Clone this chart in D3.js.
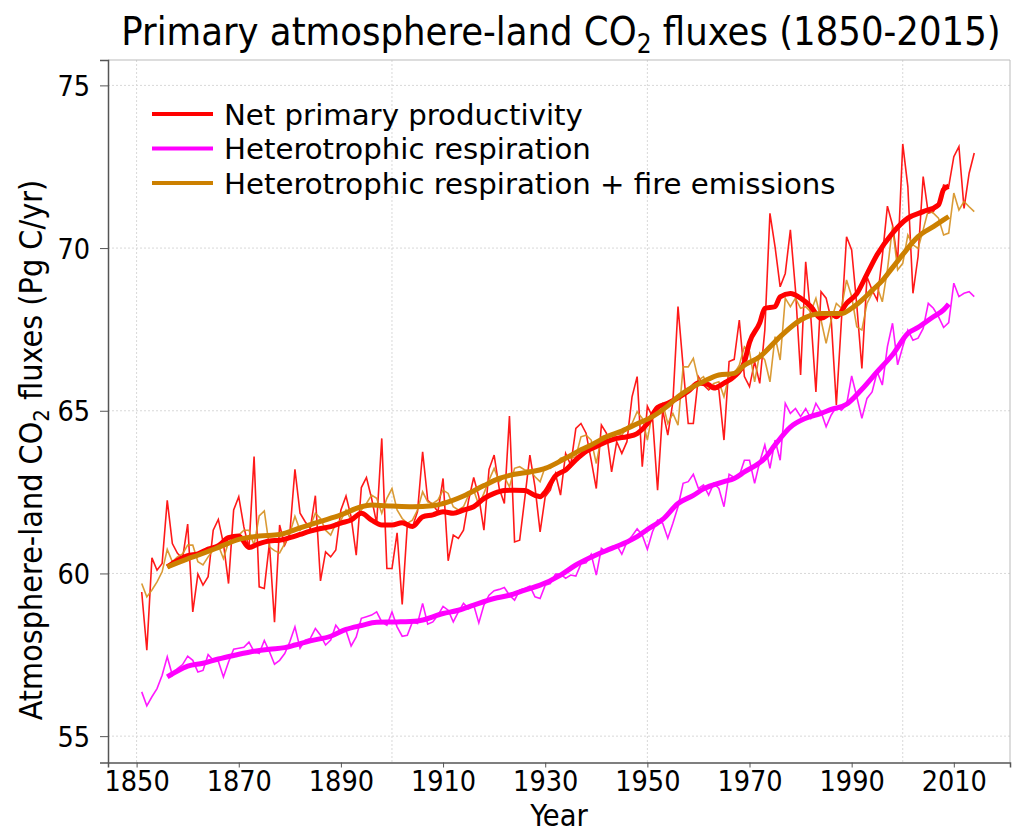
<!DOCTYPE html>
<html><head><meta charset="utf-8">
<script src="https://cdn.jsdelivr.net/npm/d3@7"></script>
<style>
body{margin:0;background:#fff}
text{font-family:"DejaVu Sans Condensed","DejaVu Sans",sans-serif;font-stretch:condensed;fill:#000}
</style>
</head><body><svg id="c" width="1013" height="833"></svg>
<script>
// ---------- DATA ----------
const firstYear = 1851;
// Net primary productivity (annual, 1851-2014)
const npp = [59.43,57.64,60.48,60.10,60.31,62.25,60.92,60.62,60.46,61.52,
58.82,59.98,59.64,59.90,61.33,61.66,60.92,59.69,61.95,62.36,
61.43,60.77,63.59,59.59,59.54,60.92,58.50,61.49,60.87,61.23,
63.20,61.85,61.59,61.38,62.39,59.77,60.66,60.51,60.72,61.95,
62.38,61.74,60.56,62.64,62.95,62.31,61.54,64.15,60.15,60.15,
61.25,59.05,61.49,61.43,61.90,63.74,62.25,62.10,61.90,62.92,
60.39,61.18,61.08,61.33,62.25,62.95,62.36,61.33,63.20,63.64,
62.61,62.15,64.84,60.97,61.02,62.31,63.64,62.66,61.28,62.36,
62.56,63.07,62.41,63.69,63.33,64.46,64.61,64.31,63.48,62.61,
64.56,64.31,63.12,64.05,63.69,64.05,65.43,66.05,63.28,65.14,
64.82,62.56,65.02,64.25,65.28,68.20,66.35,64.61,64.61,66.05,
65.79,65.64,65.79,65.64,64.10,66.51,66.58,67.79,66.05,65.74,
66.51,65.84,67.48,71.07,70.04,68.81,69.22,70.56,68.71,66.10,
69.58,67.89,65.58,68.66,68.46,67.79,65.18,67.79,70.35,69.94,
68.25,66.30,69.12,68.71,68.40,69.74,71.29,70.71,69.58,73.20,
71.89,68.61,69.74,72.20,71.07,71.12,71.38,71.94,71.89,72.81,
73.12,71.22,72.30,72.92];
// Heterotrophic respiration (annual, 1851-2014)
const hr = [56.36,55.93,56.21,56.46,56.87,57.44,56.87,57.08,57.20,57.46,
57.33,56.97,57.02,57.51,57.33,57.30,56.82,57.28,57.67,57.70,
57.73,57.89,57.60,57.54,57.94,57.60,57.21,57.33,57.54,57.90,
58.36,57.70,57.95,58.00,58.31,58.10,57.80,57.95,58.41,58.20,
58.25,57.77,58.05,58.62,58.67,58.72,58.82,58.51,58.41,58.82,
58.36,58.07,58.10,58.51,58.46,59.08,58.44,58.51,58.72,58.99,
58.87,58.51,58.82,59.08,58.92,59.03,58.48,59.03,59.33,59.47,
59.51,59.57,59.33,59.18,59.49,59.54,59.61,59.28,59.23,59.64,
59.69,59.98,59.98,59.85,59.95,59.92,60.29,60.33,60.59,59.95,
60.77,60.66,60.82,60.87,60.59,60.97,61.15,61.37,61.18,60.74,
61.28,61.64,61.54,61.08,61.54,62.05,62.77,62.82,63.05,62.61,
62.72,62.41,62.77,62.61,62.05,63.05,62.95,63.00,63.48,63.48,
62.77,63.43,63.95,63.23,64.10,63.48,65.23,64.92,65.07,64.82,
65.07,64.77,65.23,64.97,64.51,64.87,65.12,65.02,65.18,66.07,
65.43,64.77,65.38,65.58,66.20,65.79,66.97,67.69,66.41,66.97,
67.48,67.17,67.23,67.53,68.30,68.15,67.89,67.56,67.71,68.92,
68.51,68.61,68.66,68.51];
// Heterotrophic respiration + fire emissions (annual, 1851-2014)
const hrFire = [59.69,59.28,59.49,59.74,60.05,60.74,60.36,60.51,60.60,60.87,
60.87,60.36,60.26,60.51,60.72,60.87,60.46,60.97,61.02,61.18,
61.33,61.33,60.87,61.77,61.92,60.82,60.70,60.63,60.92,61.23,
61.76,61.33,61.49,61.45,61.85,61.69,61.33,61.18,61.54,61.64,
61.95,61.64,61.74,61.95,62.15,62.41,62.31,61.85,62.31,62.61,
61.95,61.69,61.54,61.64,61.95,62.51,62.20,62.15,62.26,62.56,
62.46,62.05,61.95,62.05,62.41,62.56,62.10,62.46,62.87,63.23,
62.82,62.97,62.66,63.23,63.28,63.18,63.18,62.97,62.82,63.28,
63.23,63.38,63.54,63.59,63.54,63.59,64.20,64.25,64.10,63.38,
64.20,64.25,64.10,64.31,64.25,64.51,64.61,64.97,64.77,64.10,
64.97,65.12,65.23,64.61,64.92,64.56,66.35,66.35,66.61,65.94,
66.05,65.69,65.84,65.89,65.43,66.10,66.15,66.40,66.97,66.82,
65.89,66.77,66.56,65.89,67.28,66.56,68.46,68.20,68.46,68.15,
68.20,68.04,68.46,67.79,67.07,67.79,68.30,68.15,69.02,68.51,
67.58,67.48,68.30,68.61,68.81,68.35,69.33,70.66,69.33,69.53,
70.40,70.10,69.99,70.56,71.17,71.07,70.92,70.40,70.46,71.69,
71.17,71.43,71.27,71.12];
// Smoothed curves [year, value]
const nppSmooth = [[1856,60.2],[1858,60.4],[1860,60.55],[1862,60.6],[1864,60.75],[1866,60.85],[1868,61.1],[1870,61.15],[1872,60.8],[1874,60.92],
[1876,61.0],[1878,61.02],[1880,61.1],[1882,61.2],[1884,61.3],[1886,61.38],[1888,61.44],[1890,61.55],[1892,61.64],[1894,61.85],
[1896,61.64],[1898,61.49],[1900,61.49],[1902,61.56],[1904,61.44],[1906,61.74],[1908,61.8],[1910,61.9],[1912,61.85],[1914,61.95],
[1916,62.05],[1918,62.3],[1920,62.46],[1922,62.55],[1924,62.56],[1926,62.55],[1928,62.4],[1929,62.36],[1930,62.5],[1932,63.0],
[1934,63.18],[1936,63.49],[1938,63.75],[1940,63.9],[1942,64.05],[1944,64.15],[1946,64.2],[1948,64.3],[1950,64.6],[1952,65.1],
[1954,65.23],[1956,65.4],[1958,65.6],[1960,65.85],[1962,65.8],[1963,65.7],[1965,65.85],[1967,66.05],[1969,66.5],[1970,67.1],
[1972,67.7],[1973,68.15],[1975,68.2],[1976,68.5],[1978,68.6],[1980,68.46],[1982,68.2],[1984,67.84],[1986,67.99],[1987,67.89],
[1989,68.3],[1991,68.6],[1993,69.2],[1995,69.8],[1998,70.46],[2001,70.92],[2004,71.12],[2007,71.33],[2008,71.8],[2009,71.9]];
const hrSmooth = [[1856,56.82],[1858,57.0],[1860,57.15],[1863,57.24],[1866,57.37],[1869,57.48],[1872,57.58],[1876,57.67],[1879,57.72],[1881,57.8],
[1884,57.93],[1888,58.07],[1891,58.28],[1894,58.4],[1897,58.5],[1901,58.51],[1905,58.54],[1910,58.77],[1913,58.87],[1916,59.03],
[1920,59.23],[1923,59.33],[1926,59.49],[1929,59.64],[1933,59.95],[1936,60.26],[1939,60.5],[1943,60.77],[1946,60.97],[1948,61.13],
[1950,61.35],[1953,61.66],[1956,62.15],[1959,62.4],[1961,62.6],[1965,62.82],[1967,62.92],[1969,63.12],[1973,63.54],[1975,63.95],
[1978,64.5],[1981,64.77],[1984,64.92],[1986,65.04],[1989,65.2],[1992,65.66],[1995,66.2],[1998,66.72],[2001,67.38],[2003,67.56],
[2006,67.89],[2008,68.1],[2009,68.28]];
const hrFireSmooth = [[1856,60.2],[1860,60.45],[1862,60.56],[1866,60.8],[1870,61.05],[1874,61.15],[1878,61.2],[1882,61.4],[1886,61.6],[1890,61.8],
[1894,62.05],[1896,62.1],[1900,62.07],[1904,62.05],[1908,62.08],[1910,62.15],[1914,62.38],[1918,62.7],[1921,62.92],[1924,63.05],
[1927,63.12],[1930,63.23],[1934,63.54],[1937,63.8],[1939,63.95],[1942,64.2],[1945,64.38],[1948,64.6],[1951,64.82],[1954,65.15],
[1956,65.43],[1958,65.65],[1961,65.9],[1964,66.1],[1967,66.15],[1969,66.4],[1972,66.66],[1976,67.28],[1980,67.79],[1984,67.99],
[1988,67.99],[1990,68.15],[1992,68.4],[1994,68.7],[1996,69.0],[1998,69.4],[2000,69.8],[2003,70.35],[2006,70.66],[2009,70.97]];
const xTicks = [1850,1870,1890,1910,1930,1950,1970,1990,2010];
const xGrid = [1850,1900,1950,2000];
const yTicks = [55,60,65,70,75];
const seriesNames = ["Net primary productivity","Heterotrophic respiration","Heterotrophic respiration + fire emissions"];
const colors = {npp:"#ff0000", hr:"#ff00ff", fire:"#cc8000", fireThin:"#d69020"};

// ---------- CHART ----------
const svg = d3.select("#c");
const L = 108, R = 1010, T = 60, B = 762.5;
const x = d3.scaleLinear().domain([1844.4, 2021.0]).range([L, R]);
const y = d3.scaleLinear().domain([54.19, 75.78]).range([B, T]);

// grid
const g = svg.append("g");
g.selectAll(".gx").data(xGrid).join("line")
  .attr("x1", d => x(d)).attr("x2", d => x(d)).attr("y1", T).attr("y2", B)
  .attr("stroke", "#d8d8d8").attr("stroke-width", 1).attr("stroke-dasharray", "2,2");
g.selectAll(".gy").data(yTicks).join("line")
  .attr("x1", L).attr("x2", R).attr("y1", d => y(d)).attr("y2", d => y(d))
  .attr("stroke", "#d8d8d8").attr("stroke-width", 1).attr("stroke-dasharray", "2,2");

// frame
svg.append("line").attr("x1", L).attr("x2", R).attr("y1", T).attr("y2", T).attr("stroke", "#bbb");
svg.append("line").attr("x1", R).attr("x2", R).attr("y1", T).attr("y2", B).attr("stroke", "#bbb");

const annual = arr => arr.map((v, i) => [firstYear + i, v]);
const lineLin = d3.line().x(d => x(d[0])).y(d => y(d[1]));
const lineSm = d3.line().x(d => x(d[0])).y(d => y(d[1])).curve(d3.curveMonotoneX);

const plot = svg.append("g");
plot.append("path").datum(annual(npp)).attr("d", lineLin).attr("fill", "none")
  .attr("stroke", colors.npp).attr("stroke-width", 1.6).attr("stroke-opacity", 0.9);
plot.append("path").datum(annual(hr)).attr("d", lineLin).attr("fill", "none")
  .attr("stroke", colors.hr).attr("stroke-width", 1.6).attr("stroke-opacity", 0.9);
plot.append("path").datum(annual(hrFire)).attr("d", lineLin).attr("fill", "none")
  .attr("stroke", colors.fireThin).attr("stroke-width", 1.6).attr("stroke-opacity", 0.9);
plot.append("path").datum(hrSmooth).attr("d", lineSm).attr("fill", "none")
  .attr("stroke", colors.hr).attr("stroke-width", 5).attr("stroke-linejoin", "round");
plot.append("path").datum(nppSmooth).attr("d", lineSm).attr("fill", "none")
  .attr("stroke", colors.npp).attr("stroke-width", 5).attr("stroke-linejoin", "round");
plot.append("path").datum(hrFireSmooth).attr("d", lineSm).attr("fill", "none")
  .attr("stroke", colors.fire).attr("stroke-width", 5).attr("stroke-linejoin", "round");

// axes
const xAxis = svg.append("g").attr("transform", `translate(0,${B})`)
  .call(d3.axisBottom(x).tickValues(xTicks).tickFormat(d3.format("d")).tickSizeOuter(0).tickSize(5).tickPadding(3));
const yAxis = svg.append("g").attr("transform", `translate(${L},0)`)
  .call(d3.axisLeft(y).tickValues(yTicks).tickSizeOuter(0).tickSize(8).tickPadding(10));
[xAxis, yAxis].forEach(a => {
  a.select(".domain").attr("stroke", "#555").attr("stroke-width", 1.5);
  a.selectAll(".tick line").attr("stroke", "#555");
  a.selectAll("text").attr("font-size", 28.5).attr("fill", "#000")
    .style("font-family", '"DejaVu Sans Condensed","DejaVu Sans",sans-serif');
});
yAxis.selectAll("text").attr("dy", "0.35em");

// title
const title = svg.append("text").attr("x", 561).attr("y", 45).attr("text-anchor", "middle")
  .attr("font-size", 39.5);
title.append("tspan").text("Primary atmosphere-land CO");
title.append("tspan").text("2").attr("font-size", 26).attr("dy", 8);
title.append("tspan").text(" fluxes (1850-2015)").attr("dy", -8);

// axis titles
svg.append("text").attr("x", 559).attr("y", 826).attr("text-anchor", "middle").attr("font-size", 30.5).text("Year");
const yl = svg.append("text").attr("transform", "translate(42,450) rotate(-90)").attr("text-anchor", "middle").attr("font-size", 32);
yl.append("tspan").text("Atmosphere-land CO");
yl.append("tspan").text("2").attr("font-size", 22).attr("dy", 7);
yl.append("tspan").text(" fluxes (Pg C/yr)").attr("dy", -7);

// legend
const legColors = [colors.npp, colors.hr, colors.fire];
const leg = svg.append("g");
seriesNames.forEach((name, i) => {
  const yy = 114 + i * 34.5;
  leg.append("line").attr("x1", 152).attr("x2", 213).attr("y1", yy).attr("y2", yy)
    .attr("stroke", legColors[i]).attr("stroke-width", 4);
  const t = leg.append("text").attr("x", 224).attr("y", yy + 10.5).attr("font-size", 29).text(name);
  const w = t.node().getComputedTextLength();
  t.attr("textLength", w * 1.12).attr("lengthAdjust", "spacingAndGlyphs");
});
</script></body></html>
